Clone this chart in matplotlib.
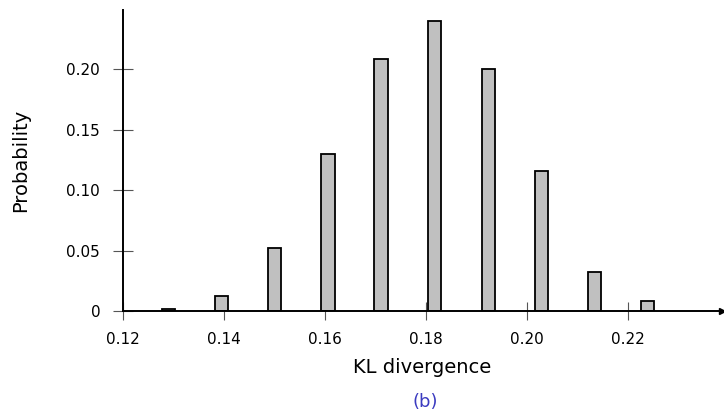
import numpy as np
import matplotlib
matplotlib.use('Agg')
import matplotlib.pyplot as plt

# KL divergence histogram values (bin centers and probabilities)
bin_centers = [0.1290, 0.1395, 0.1500, 0.1606, 0.1711, 0.1817, 0.1923, 0.2028, 0.2134, 0.2239]
probability = [0.002, 0.012, 0.052, 0.130, 0.208, 0.240, 0.200, 0.116, 0.032, 0.008]
x_ticks = [0.12, 0.14, 0.16, 0.18, 0.20, 0.22]
x_tick_labels = ['0.12', '0.14', '0.16', '0.18', '0.20', '0.22']
y_ticks = [0, 0.05, 0.10, 0.15, 0.20]
y_tick_labels = ['0', '0.05', '0.10', '0.15', '0.20']

plt.rcParams['font.family'] = ['DejaVu Sans']

fig = plt.figure(figsize=(7.24, 4.13), dpi=100)
ax = fig.add_axes([0.170, 0.247, 0.827, 0.729])

ax.bar(bin_centers, probability, width=0.0026, color='#c0c0c0',
       edgecolor='black', linewidth=1.3, zorder=3)

ax.set_xlim(0.12, 0.2386)
ax.set_ylim(0, 0.249)

for s in ['top', 'right']:
    ax.spines[s].set_visible(False)
for s in ['left', 'bottom']:
    ax.spines[s].set_linewidth(1.4)
    ax.spines[s].set_zorder(4)

# arrow heads on axis lines
ax.plot(1, 0, '>k', markersize=4, transform=ax.get_yaxis_transform(), clip_on=False)
ax.plot(0, 1, '^k', markersize=4, transform=ax.get_xaxis_transform(), clip_on=False)

ax.set_xticks(x_ticks)
ax.set_xticklabels(x_tick_labels)
ax.set_yticks(y_ticks)
ax.set_yticklabels(y_tick_labels)
ax.tick_params(axis='x', direction='inout', length=13, width=0.8, color='#555555',
               labelsize=11, pad=8.5)
ax.tick_params(axis='y', direction='inout', length=14, width=0.8, color='#555555',
               labelsize=11, pad=9.5)

ax.set_xlabel('KL divergence', fontsize=14, labelpad=8)
ax.set_ylabel('Probability', fontsize=14, labelpad=26)

fig.text(425 / 724, 1 - 402 / 413, '(b)', color='#3b3bc0',
         fontsize=13, ha='center', va='center')

plt.savefig('out.png', dpi=100)
plt.close()
